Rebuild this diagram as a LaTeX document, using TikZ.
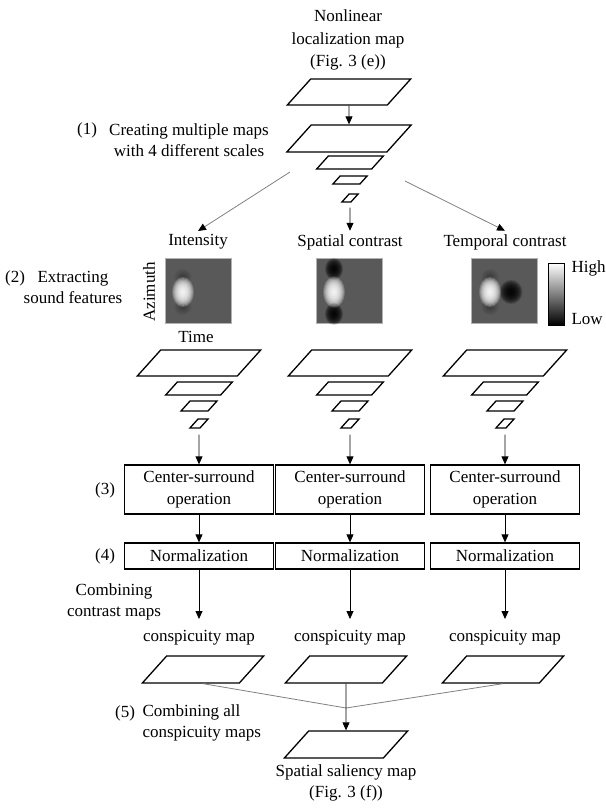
\documentclass[tikz,border=0pt]{standalone}
\usepackage{fontspec}
\setmainfont{Liberation Serif}
\usetikzlibrary{arrows.meta, positioning}

\definecolor{mapgray}{gray}{0.35}

\begin{document}
\begin{tikzpicture}[x=1pt, y=-1pt,
    every node/.style={font=\fontsize{17}{21.5}\selectfont},
    sheet/.style 2 args={draw, line width=1.3pt, xslant=0.9, inner sep=0pt, minimum width=#1, minimum height=#2},
    opbox/.style={draw, line width=1.3pt, minimum width=149pt, align=center, inner sep=2pt},
    panel/.style={draw=gray!60, fill=mapgray, minimum width=66pt, minimum height=65pt, inner sep=0pt},
    higlow/.style={white, opacity=0.2},
    loglow/.style={black, opacity=0.2},
    dimglow/.style={black, opacity=0.045},
    arr/.style={-{Triangle[length=8pt, width=7pt]}, line width=0.8pt},
    fan/.style={gray, line width=0.8pt, -{Triangle[length=8pt, width=7pt, color=black]}}]
    \useasboundingbox (0,0) rectangle (605,808);

    % Input map and scale pyramid
    \node[align=center, font=\fontsize{17}{22.5}\selectfont] (title) at (348,40) {Nonlinear\\localization map\\(Fig. 3 (e))};
    \node[sheet={100pt}{26pt}] (input) at (349,92) {};
    \node[sheet={100pt}{27pt}] (topA) at (349,138.5) {};
    \node[sheet={55pt}{13pt}] (topB) at (350,162.5) {};
    \node[sheet={27pt}{8pt}] (topC) at (350,180) {};
    \node[sheet={9pt}{8pt}] (topD) at (350,198) {};
    \draw[arr] (input) -- (topA);
    \node (stepA) at (87,130) {(1)};
    \node[align=center] (stepAtxt) at (189,140) {Creating multiple maps\\with 4 different scales};

    % Sound features
    \node (titI) at (198,242) {Intensity};
    \node (titS) at (350,242) {Spatial contrast};
    \node (titT) at (505,242) {Temporal contrast};
    \coordinate (forkL) at (290,172);
    \coordinate (forkR) at (405,181);
    \draw[fan] (forkL) -- (titI.north);
    \draw[fan] (forkR) -- (titT.north);
    \draw[arr, shorten <=5pt] (topD) -- (titS);
    \node (stepB) at (15,278) {(2)};
    \node[align=center] (stepBtxt) at (73,287.5) {Extracting\\sound features};

    \node[panel] (mapI) at (198,290.5) {};
    \node[panel] (mapS) at (349,290.5) {};
    \node[panel] (mapT) at (504,290.5) {};
    % blurred spots, built up from thin layers
    \foreach \k in {1,...,8} {
        \fill[dimglow] (183,277) ellipse [x radius=1.1*\k, y radius=1.0*\k];
        \fill[dimglow] (183,307) ellipse [x radius=1.1*\k, y radius=1.0*\k];
        \fill[dimglow] (490,277) ellipse [x radius=1.1*\k, y radius=1.0*\k];
        \fill[dimglow] (490,307) ellipse [x radius=1.1*\k, y radius=1.0*\k];
    }
    \foreach \k in {1,...,12} {
        \fill[loglow] (334,269) ellipse [x radius=0.75*\k, y radius=0.9*\k];
        \fill[loglow] (334,314) ellipse [x radius=0.75*\k, y radius=0.9*\k];
        \fill[loglow] (511,292) ellipse [x radius=0.95*\k, y radius=1.0*\k];
        \fill[higlow] (183,292) ellipse [x radius=0.9*\k, y radius=1.25*\k];
        \fill[higlow] (334,292) ellipse [x radius=0.9*\k, y radius=1.3*\k];
        \fill[higlow] (490,292) ellipse [x radius=0.9*\k, y radius=1.25*\k];
    }
    \node[rotate=90] (azim) at (149,292) {Azimuth};
    \node (time) at (196,337) {Time};
    \node[draw, line width=1pt, top color=white, bottom color=black, minimum width=16pt, minimum height=62pt, inner sep=0pt] (cbar) at (556,294) {};
    \node[anchor=west] (high) at (568,268) {High};
    \node[anchor=west] (low) at (568,319) {Low};

    % Feature pyramids
    \node[sheet={100pt}{26pt}] (stkIa) at (199,363) {};
    \node[sheet={55pt}{13pt}] (stkIb) at (199,388.5) {};
    \node[sheet={27pt}{10pt}] (stkIc) at (199,406) {};
    \node[sheet={10pt}{9pt}] (stkId) at (199,423.5) {};
    \node[sheet={100pt}{26pt}] (stkSa) at (350,363) {};
    \node[sheet={55pt}{13pt}] (stkSb) at (350,388.5) {};
    \node[sheet={27pt}{10pt}] (stkSc) at (350,406) {};
    \node[sheet={10pt}{9pt}] (stkSd) at (350,423.5) {};
    \node[sheet={100pt}{26pt}] (stkTa) at (505,363) {};
    \node[sheet={55pt}{13pt}] (stkTb) at (505,388.5) {};
    \node[sheet={27pt}{10pt}] (stkTc) at (505,406) {};
    \node[sheet={10pt}{9pt}] (stkTd) at (505,423.5) {};

    % Center-surround and normalization
    \node[opbox, minimum height=49pt] (csI) at (199,489.5) {Center-surround\\operation};
    \node[opbox, minimum height=49pt] (csS) at (350,489.5) {Center-surround\\operation};
    \node[opbox, minimum height=49pt] (csT) at (505,489.5) {Center-surround\\operation};
    \node[opbox, minimum height=26pt] (nmI) at (199,556) {Normalization};
    \node[opbox, minimum height=26pt] (nmS) at (350,556) {Normalization};
    \node[opbox, minimum height=26pt] (nmT) at (505,556) {Normalization};
    \draw[arr, shorten <=6pt] (stkId) -- (csI);
    \draw[arr, shorten <=6pt] (stkSd) -- (csS);
    \draw[arr, shorten <=6pt] (stkTd) -- (csT);
    \draw[arr] (csI) -- (nmI);
    \draw[arr] (csS) -- (nmS);
    \draw[arr] (csT) -- (nmT);
    \node (stepC) at (105,490) {(3)};
    \node (stepD) at (105,556) {(4)};
    \node[align=center] (combTxt) at (114,602) {Combining\\contrast maps};

    % Conspicuity maps
    \node (conItxt) at (199,638) {conspicuity map};
    \node (conStxt) at (350,638) {conspicuity map};
    \node (conTtxt) at (505,638) {conspicuity map};
    \draw[arr, shorten >=8pt] (nmI) -- (conItxt);
    \draw[arr, shorten >=8pt] (nmS) -- (conStxt);
    \draw[arr, shorten >=8pt] (nmT) -- (conTtxt);
    \node[sheet={97pt}{27pt}] (conI) at (203,669.5) {};
    \node[sheet={97pt}{27pt}] (conS) at (346,669.5) {};
    \node[sheet={97pt}{27pt}] (conT) at (503,669.5) {};

    % Spatial saliency map
    \coordinate (join) at (346,708);
    \draw[gray, line width=0.8pt] (conI.south -| conI.center) -- (join) -- (conT.south -| conT.center);
    \node[sheet={99pt}{27pt}] (sal) at (346,744.5) {};
    \draw[arr] (conS) -- (sal);
    \node (stepE) at (125,713) {(5)};
    \node[align=left, anchor=west] (stepEtxt) at (139,723) {Combining all\\conspicuity maps};
    \node[align=center] (salTxt) at (346,783) {Spatial saliency map\\(Fig. 3 (f))};
\end{tikzpicture}
\end{document}
